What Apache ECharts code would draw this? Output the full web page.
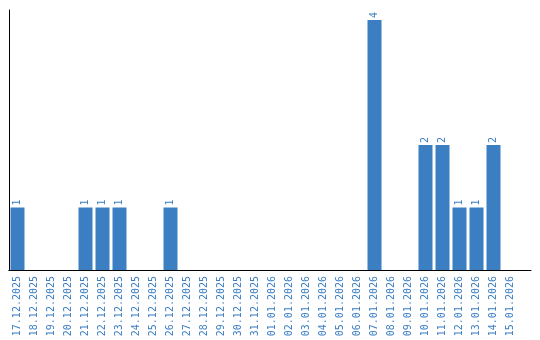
<!DOCTYPE html>
<html><head><meta charset="utf-8">
<script src="https://cdn.jsdelivr.net/npm/echarts@6/dist/echarts.min.js"></script>
<style>html,body{margin:0;padding:0;background:#fff}#c{width:540px;height:340px}</style>
</head><body><div id="c"></div>
<script>
const categories = ["17.12.2025","18.12.2025","19.12.2025","20.12.2025","21.12.2025","22.12.2025","23.12.2025","24.12.2025","25.12.2025","26.12.2025","27.12.2025","28.12.2025","29.12.2025","30.12.2025","31.12.2025","01.01.2026","02.01.2026","03.01.2026","04.01.2026","05.01.2026","06.01.2026","07.01.2026","08.01.2026","09.01.2026","10.01.2026","11.01.2026","12.01.2026","13.01.2026","14.01.2026","15.01.2026"];
const counts = [1,0,0,0,1,1,1,0,0,1,0,0,0,0,0,0,0,0,0,0,0,4,0,0,2,2,1,1,2,0];
const blue = '#3b7ec2';
const chart = echarts.init(document.getElementById('c'), null, {renderer:'canvas'});
chart.setOption({
  animation:false,
  grid:[
    {left:9, top:10, width:510, bottom:70, containLabel:false},
    {left:9, top:10, width:522, bottom:70, containLabel:false}
  ],
  xAxis:[
    {type:'category', data:categories, gridIndex:0,
      axisLine:{lineStyle:{color:'#000', width:1}},
      axisTick:{show:false},
      axisLabel:{rotate:90, interval:0, color:blue, fontFamily:'DejaVu Sans Mono', fontSize:10, margin:6}
    },
    {type:'value', gridIndex:1, min:0, max:1,
      axisLine:{show:true, onZero:false, lineStyle:{color:'#000', width:1}},
      axisTick:{show:false}, axisLabel:{show:false}, splitLine:{show:false}
    }
  ],
  yAxis:[
    {type:'value', min:0, max:4.16, gridIndex:0,
      axisLine:{show:true, lineStyle:{color:'#000', width:1}},
      axisTick:{show:false}, axisLabel:{show:false}, splitLine:{show:false}
    },
    {type:'value', gridIndex:1, min:0, max:1, show:false}
  ],
  series:[{type:'bar', data:counts.map(v=>v===0?null:v), barWidth:14,
    xAxisIndex:0, yAxisIndex:0,
    itemStyle:{color:blue},
    label:{show:true, position:'top', rotate:90, align:'left', verticalAlign:'middle', distance:2,
      color:blue, fontFamily:'DejaVu Sans Mono', fontSize:10}
  }]
});
</script></body></html>
